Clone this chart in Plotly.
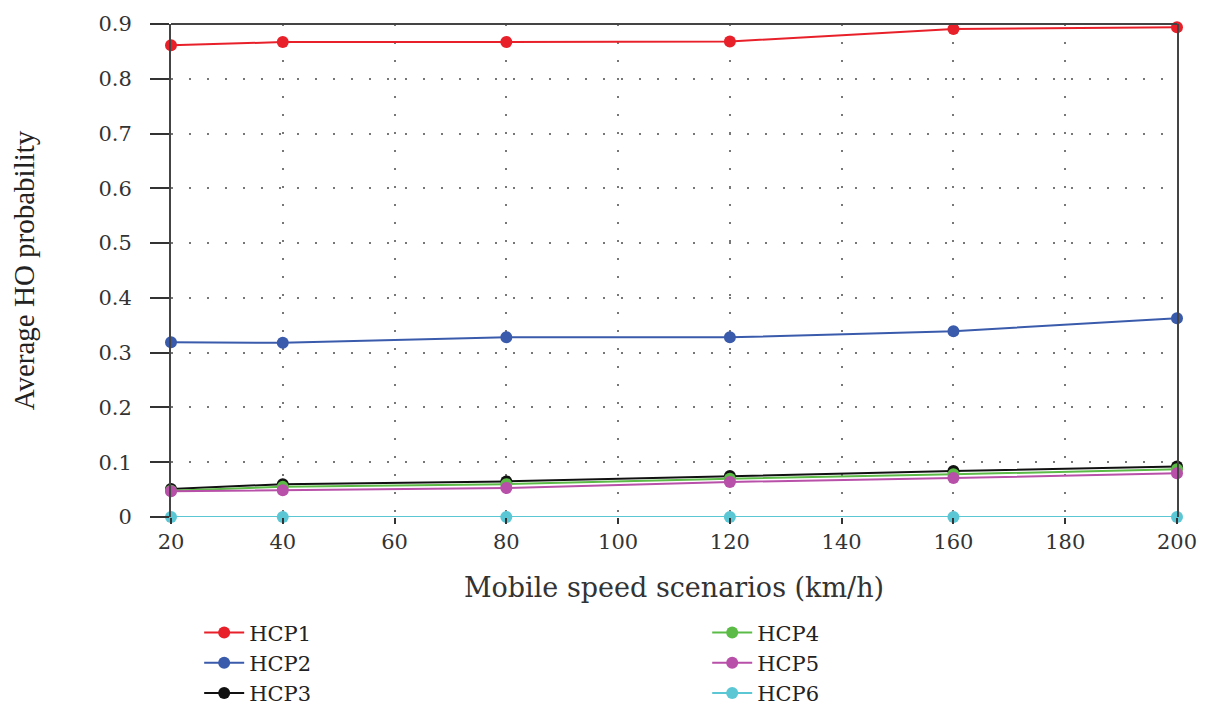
import plotly.graph_objects as go

speeds = [20, 40, 80, 120, 160, 200]
hcp1 = [0.861, 0.867, 0.867, 0.868, 0.891, 0.894]
hcp2 = [0.319, 0.318, 0.328, 0.328, 0.339, 0.363]
hcp3 = [0.051, 0.060, 0.065, 0.075, 0.084, 0.092]
hcp4 = [0.048, 0.055, 0.060, 0.070, 0.078, 0.087]
hcp5 = [0.047, 0.049, 0.053, 0.064, 0.071, 0.080]
hcp6 = [0.0, 0.0, 0.0, 0.0, 0.0, 0.0]

names = ["HCP1", "HCP2", "HCP3", "HCP4", "HCP5", "HCP6"]
series = [hcp1, hcp2, hcp3, hcp4, hcp5, hcp6]
colors = ["#e8202a", "#3a5bab", "#111111", "#5bbb46", "#b84fa8", "#5bc7d5"]
legends = ["legend", "legend", "legend", "legend2", "legend2", "legend2"]

x_ticks = [20, 40, 60, 80, 100, 120, 140, 160, 180, 200]
y_ticks = [0, 0.1, 0.2, 0.3, 0.4, 0.5, 0.6, 0.7, 0.8, 0.9]
y_tick_text = ["0", "0.1", "0.2", "0.3", "0.4", "0.5", "0.6", "0.7", "0.8", "0.9"]

WIDE = "DejaVu Serif"
NARROW = "Liberation Serif"

fig = go.Figure()
for name, vals, col, lg in zip(names, series, colors, legends):
    fig.add_trace(go.Scatter(
        x=speeds, y=vals, name=name, mode="lines+markers",
        line=dict(color=col, width=2),
        marker=dict(color=col, size=12),
        cliponaxis=False, legend=lg,
    ))

legend_common = dict(
    yref="container", y=0.150, yanchor="top", xanchor="left",
    font=dict(family=WIDE, size=21, color="#222222"), tracegroupgap=0,
    bgcolor="rgba(0,0,0,0)", itemwidth=40,
)

grid_dash = "2px,16px"

# the page body adds an 8px offset to the figure; margins compensate for it
fig.update_layout(
    width=1215, height=711,
    margin=dict(l=163, r=46, t=16, b=202),
    paper_bgcolor="white", plot_bgcolor="white",
    font=dict(family=WIDE, size=20, color="#333333"),
    xaxis=dict(
        range=[20, 200], tickvals=x_ticks, automargin=False,
        showgrid=True, gridcolor="#777777", griddash=grid_dash, gridwidth=1.5,
        zeroline=False, showline=False,
        ticks="outside", ticklen=6, tickcolor="#333333", tickwidth=2,
        tickfont=dict(family=WIDE, size=21, color="#333333"),
        title=dict(text="Mobile speed scenarios (km/h)",
                   font=dict(family=WIDE, size=27, color="#333333"), standoff=24),
    ),
    yaxis=dict(
        range=[0, 0.9], tickvals=y_ticks, ticktext=y_tick_text, automargin=False,
        showgrid=True, gridcolor="#777777", griddash=grid_dash, gridwidth=1.5,
        zeroline=False, showline=True, mirror=True, linecolor="#444444", linewidth=2,
        ticks="outside", ticklen=19, tickcolor="#333333", tickwidth=2,
        ticklabelstandoff=14,
        tickfont=dict(family=WIDE, size=21, color="#333333"),
        title=dict(text="Average HO probability",
                   font=dict(family=NARROW, size=29, color="#222222"), standoff=70),
    ),
    legend=dict(x=0.028, **legend_common),
    legend2=dict(x=0.533, **legend_common),
)
fig.add_shape(type="line", xref="paper", yref="paper", x0=0, x1=1, y0=1, y1=1,
              line=dict(color="#444444", width=2))

fig.write_html("out.html")
